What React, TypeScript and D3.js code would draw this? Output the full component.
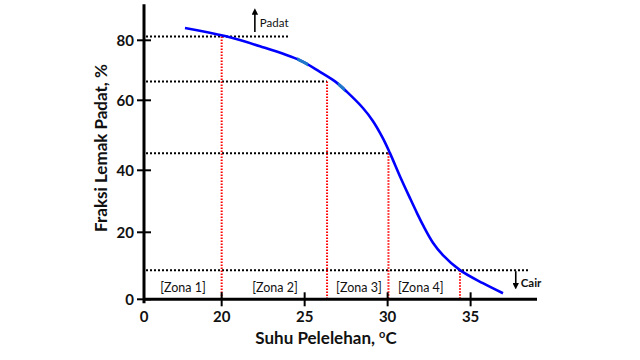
import React from "react";
import * as d3 from "d3";

// Melting curve (temperature °C vs solid fat fraction %)
const temps = [17.79, 20.2, 22.31, 24.72, 25.92, 26.83, 27.55, 28.51, 29.11, 29.71, 30.14, 30.74, 31.34, 31.77, 32.14, 32.73, 33.33, 34.36, 35.74, 36.95];
const solidFat = [84.1, 81.4, 78.0, 73.3, 69.5, 66.3, 62.8, 57.8, 54.1, 49.2, 44.9, 38.1, 31.1, 26.2, 22.2, 16.9, 13.2, 8.7, 4.8, 1.8];

const xTicks = [20, 25, 30, 35];
const yTicks = [0, 20, 40, 60, 80];
const xOriginLabel = "0";

// Guide lines
const guideLevels = [81.3, 66.3, 44.9, 8.7];
const guideVerticals = [20, 26.35, 30.05, 34.36];
const guideEnds = [24.1, 26.35, 30.05, 38.57];

const zoneLabels = ["[Zona 1]", "[Zona 2]", "[Zona 3]", "[Zona 4]"];
const zoneCenters = [17.67, 23.21, 28.27, 32.0];
const zoneLevel = 3.6;

// small lighter-coloured stretches on the curve
const tealRanges: [number, number][] = [[24.55, 25.2], [27.0, 27.42]];

const FONT = "Lato, 'Open Sans', sans-serif";

export default function App() {
  const x = d3.scaleLinear().domain([15.32, 39]).range([144, 537]);
  const y = d3
    .scaleLinear()
    .domain([0, 20, 40, 60, 80, 92])
    .range([299.3, 232.3, 170.3, 100.3, 40.3, 4.3]);

  const pts: [number, number][] = temps.map((t, i) => [t, solidFat[i]]);
  const line = d3
    .line<[number, number]>()
    .x((d) => x(d[0]))
    .y((d) => y(d[1]))
    .curve(d3.curveCatmullRom.alpha(0.5));
  const curvePath = line(pts) || "";

  const x0 = x.domain()[0];
  const y0 = 0;

  return (
    <svg
      width={640}
      height={360}
      style={{ position: "absolute", left: 0, top: 0, background: "#fff" }}
      fontFamily={FONT}
    >
      <defs>
        <marker id="arr" viewBox="0 0 10 10" refX="5" refY="5" markerWidth="4" markerHeight="4" orient="auto-start-reverse">
          <path d="M0,0 L10,5 L0,10 z" fill="#000" />
        </marker>
        {tealRanges.map((r, i) => (
          <clipPath id={"teal" + i} key={"c" + i}>
            <rect x={x(r[0])} width={x(r[1]) - x(r[0])} y={0} height={360} />
          </clipPath>
        ))}
      </defs>

      {/* horizontal dotted guides */}
      {guideLevels.map((lv, i) => (
        <line
          key={"h" + i}
          x1={x(x0) + 2}
          x2={x(guideEnds[i])}
          y1={y(lv)}
          y2={y(lv)}
          stroke="#000"
          strokeWidth={2}
          strokeDasharray="2,2"
        />
      ))}
      {/* vertical red dotted guides */}
      {guideVerticals.map((gx, i) => (
        <line
          key={"v" + i}
          x1={x(gx)}
          x2={x(gx)}
          y1={y(guideLevels[i])}
          y2={y(y0)}
          stroke="#ff0000"
          strokeWidth={2}
          strokeDasharray="1.5,1.5"
        />
      ))}

      {/* curve */}
      <path d={curvePath} fill="none" stroke="#0000ff" strokeWidth={2.6} />
      {tealRanges.map((r, i) => (
        <path key={"tp" + i} d={curvePath} fill="none" stroke="#1f78c8" strokeWidth={3.2} clipPath={`url(#teal${i})`} />
      ))}

      {/* axes */}
      <line x1={x(x0)} x2={x(x.domain()[1])} y1={y(y0)} y2={y(y0)} stroke="#000" strokeWidth={3} />
      <line x1={x(x0)} x2={x(x0)} y1={y(92)} y2={y(y0) + 4} stroke="#000" strokeWidth={3} />

      {yTicks.map((t) => (
        <g key={"yt" + t}>
          <line x1={x(x0) - 7} x2={x(x0) + 7} y1={y(t)} y2={y(t)} stroke="#000" strokeWidth={2} />
          <text x={x(x0) - 10} y={y(t)} dy="0.36em" textAnchor="end" fontSize={15} fontWeight="bold" fill="#111">
            {t}
          </text>
        </g>
      ))}

      {xTicks.map((t) => (
        <g key={"xt" + t}>
          <line x1={x(t)} x2={x(t)} y1={y(y0) - 7} y2={y(y0) + 7} stroke="#000" strokeWidth={2} />
          <text x={x(t)} y={322} textAnchor="middle" fontSize={15} fontWeight="bold" fill="#111">
            {t}
          </text>
        </g>
      ))}
      <text x={x(x0)} y={322} textAnchor="middle" fontSize={15} fontWeight="bold" fill="#111">
        {xOriginLabel}
      </text>

      {/* zone labels */}
      {zoneLabels.map((z, i) => (
        <text key={z} x={x(zoneCenters[i])} y={y(zoneLevel)} dy="0.35em" textAnchor="middle" fontSize={12.5} fill="#111">
          {z}
        </text>
      ))}

      {/* Padat / Cair annotations */}
      <line x1={x(22.0)} x2={x(22.0)} y1={y(82.8)} y2={y(89.6)} stroke="#000" strokeWidth={1.6} markerEnd="url(#arr)" />
      <text x={x(22.0) + 5} y={y(84.6)} fontSize={11.5} fill="#111">Padat</text>
      <line x1={x(37.72)} x2={x(37.72)} y1={y(8.4)} y2={y(3.9)} stroke="#000" strokeWidth={1.6} markerEnd="url(#arr)" />
      <text x={x(37.72) + 5} y={y(3.7)} fontSize={11.5} fontWeight="bold" fill="#111">Cair</text>

      {/* axis titles */}
      <text x={326} y={344} textAnchor="middle" fontSize={17} fontWeight="bold" fill="#111">
        Suhu Pelelehan, <tspan dy="-6" fontSize={11}>o</tspan>
        <tspan dy="6">C</tspan>
      </text>
      <text
        transform={`translate(107,148) rotate(-90)`}
        textAnchor="middle"
        fontSize={17}
        fontWeight="bold"
        fill="#111"
      >
        Fraksi Lemak Padat, %
      </text>
    </svg>
  );
}
